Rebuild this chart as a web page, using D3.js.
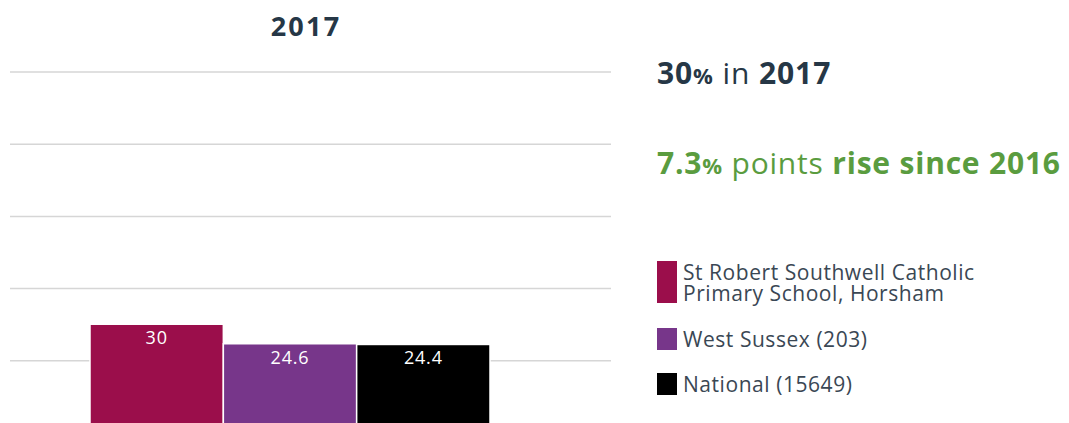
<!DOCTYPE html>
<html>
<head>
<meta charset="utf-8">
<script src="https://cdn.jsdelivr.net/npm/d3@7"></script>
<style>
  body { margin: 0; background: #fff; }
  svg { display: block; font-family: "Open Sans", sans-serif; }
</style>
</head>
<body>
<svg id="chart" width="1069" height="423"></svg>
<script>

var year = '2017';
var categories = ['St Robert Southwell Catholic Primary School, Horsham', 'West Sussex (203)', 'National (15649)'];
var legend_lines = [['St Robert Southwell Catholic', 'Primary School, Horsham'], ['West Sussex (203)'], ['National (15649)']];
var values = [30, 24.6, 24.4];
var colours = ['#9b0e4b', '#77368a', '#000000'];
var grid_ticks = [0, 20, 40, 60, 80, 100];

var svg = d3.select('#chart');

var x = d3.scaleBand().domain(categories).range([90, 490]).paddingInner(0);
var y = d3.scaleLinear().domain([0, 100]).range([432.6, 71.4]);

// gridlines
svg.append('g')
    .attr('class', 'grid')
    .attr('transform', 'translate(10,0)')
    .call(d3.axisLeft(y).tickValues(grid_ticks).tickSize(-601).tickFormat(''))
    .call(function(g){
        g.select('.domain').remove();
        g.selectAll('.tick line').attr('stroke', '#d6d6d6').attr('stroke-width', 1.5);
    });

// title
svg.append('text')
    .attr('x', 306).attr('y', 36)
    .attr('text-anchor', 'middle')
    .style('font-size', '27px').style('font-weight', 'bold')
    .style('letter-spacing', '2.2px')
    .style('fill', '#263746')
    .text(year);

// bars
svg.append('g').selectAll('rect')
    .data(values)
    .enter().append('rect')
    .attr('x', function(d, i){ return x(categories[i]); })
    .attr('y', function(d){ return y(d); })
    .attr('width', x.bandwidth())
    .attr('height', function(d){ return y(0) - y(d); })
    .attr('fill', function(d, i){ return colours[i]; })
    .attr('stroke', '#fff').attr('stroke-width', 1.5);

svg.append('g').selectAll('text')
    .data(values)
    .enter().append('text')
    .attr('x', function(d, i){ return x(categories[i]) + x.bandwidth() / 2; })
    .attr('y', function(d){ return y(d) + 20; })
    .attr('text-anchor', 'middle')
    .style('font-size', '18px').style('fill', '#fff')
    .style('letter-spacing', '0.8px')
    .text(function(d){ return d; });

// headline figures
var h1 = svg.append('text').attr('x', 657).attr('y', 84)
    .style('font-size', '30px').style('fill', '#263746')
    .style('letter-spacing', '0.9px');
h1.append('tspan').style('font-weight', 'bold').text(values[0]);
h1.append('tspan').style('font-weight', 'bold').style('font-size', '22px').text('%');
h1.append('tspan').text(' in ');
h1.append('tspan').style('font-weight', 'bold').text(year);

var h2 = svg.append('text').attr('x', 657).attr('y', 174)
    .style('font-size', '30px').style('fill', '#5a9c3f')
    .style('letter-spacing', '0.8px');
h2.append('tspan').style('font-weight', 'bold').text('7.3');
h2.append('tspan').style('font-weight', 'bold').style('font-size', '22px').text('%');
h2.append('tspan').text(' points ');
h2.append('tspan').style('font-weight', 'bold').text('rise since 2016');

// legend
var leg_y = [261, 328, 373];
var legend = svg.append('g').selectAll('g')
    .data(legend_lines)
    .enter().append('g')
    .attr('transform', function(d, i){ return 'translate(657,' + leg_y[i] + ')'; });

legend.append('rect')
    .attr('width', 20)
    .attr('height', function(d){ return d.length * 20 + 2; })
    .attr('fill', function(d, i){ return colours[i]; });

legend.each(function(d){
    var t = d3.select(this).append('text')
        .style('font-size', '21px').style('fill', '#3a4754')
        .style('letter-spacing', '0.55px');
    d.forEach(function(line, k){
        t.append('tspan').attr('x', 26).attr('y', 19 + k * 21).text(line);
    });
});

</script>
</body>
</html>
